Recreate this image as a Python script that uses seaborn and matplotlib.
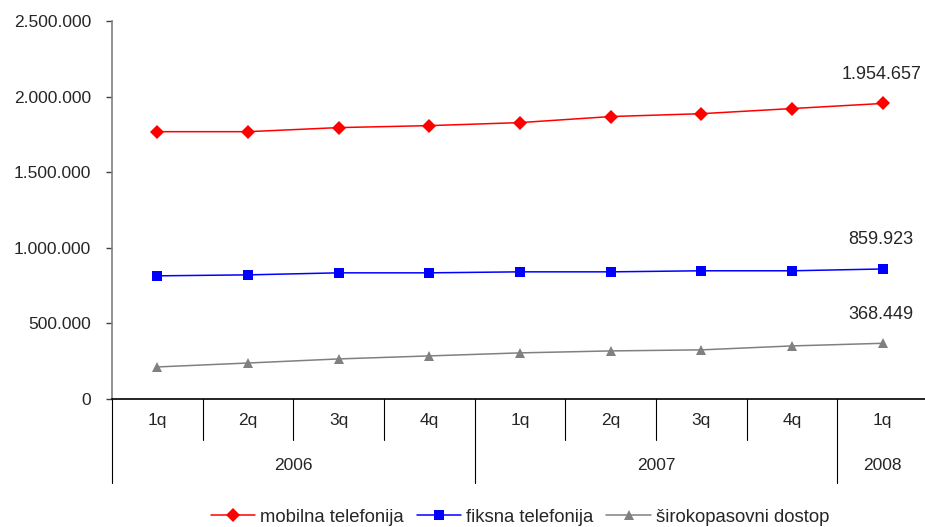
import matplotlib
matplotlib.use("Agg")
import matplotlib.pyplot as plt
import matplotlib.transforms as mtransforms
from matplotlib.ticker import FuncFormatter
import seaborn as sns
import pandas as pd

quarters = ["1q", "2q", "3q", "4q", "1q", "2q", "3q", "4q", "1q"]
years = ["2006", "2007", "2008"]
year_spans = [(0, 3), (4, 7), (8, 8)]
mobilna = [1768000, 1768000, 1795000, 1808000, 1828000, 1868000, 1887000, 1921000, 1954657]
fiksna = [814600, 821000, 834400, 834400, 841000, 841000, 848000, 848000, 859923]
sirokopasovni = [212000, 238000, 265000, 285000, 305000, 318000, 325000, 351000, 368449]
series_names = ["mobilna telefonija", "fiksna telefonija", "širokopasovni dostop"]

sns.set_style("white")
plt.rcParams['font.family'] = ['Liberation Sans', 'DejaVu Sans']

rows = []
for name, vals in zip(series_names, [mobilna, fiksna, sirokopasovni]):
    for i, v in enumerate(vals):
        rows.append({"idx": i, "value": v, "serija": name})
df = pd.DataFrame(rows)

fig = plt.figure(figsize=(9.25, 5.27), dpi=100)
W, H = 925, 527
left, right, top, bottom = 112, 928, 21, 399
ax = fig.add_axes([left / W, (H - bottom) / H, (right - left) / W, (bottom - top) / H])

palette = {"mobilna telefonija": "#ff0000", "fiksna telefonija": "#0000ff", "širokopasovni dostop": "#808080"}
markers = {"mobilna telefonija": "D", "fiksna telefonija": "s", "širokopasovni dostop": "^"}
sns.lineplot(data=df, x="idx", y="value", hue="serija", style="serija",
             palette=palette, markers=markers, dashes=False, ax=ax,
             linewidth=1.1, markersize=7, markeredgewidth=0)

ax.set_xlim(-0.5, 8.5)
ax.set_ylim(0, 2500000)
ax.set_yticks(range(0, 2500001, 500000))
ax.yaxis.set_major_formatter(FuncFormatter(lambda v, p: f"{int(v):,}".replace(",", ".")))
ax.tick_params(axis="y", labelsize=12.5, length=4, width=1, color="#404040", left=True, pad=11)
ax.set_xticks([])
ax.set_xlabel("")
ax.set_ylabel("")
for s in ["top", "right"]:
    ax.spines[s].set_visible(False)
ax.spines["left"].set_color("#808080")
ax.spines["left"].set_linewidth(1.2)
ax.spines["bottom"].set_color("black")
ax.spines["bottom"].set_linewidth(1.2)

trans = mtransforms.blended_transform_factory(ax.transData, ax.transAxes)
axh = bottom - top
r1 = 41 / axh
r2 = 84 / axh
for b in [0.5, 1.5, 2.5, 4.5, 5.5, 6.5]:
    ax.plot([b, b], [0, -r1], color="black", lw=0.8, transform=trans, clip_on=False)
for b in [-0.5, 3.5, 7.5]:
    ax.plot([b, b], [0, -r2], color="black", lw=0.8, transform=trans, clip_on=False)
for i, q in enumerate(quarters):
    ax.text(i, -21 / axh, q, transform=trans, ha="center", va="center", fontsize=12.5)
for y, (a, b) in zip(years, year_spans):
    ax.text((a + b) / 2, -66 / axh, y, transform=trans, ha="center", va="center", fontsize=12.5)

for vals in [mobilna, fiksna, sirokopasovni]:
    v = vals[-1]
    ax.annotate(f"{v:,}".replace(",", "."), (8, v), xytext=(-1, 21), textcoords="offset points",
                ha="center", va="center", fontsize=13)

handles, labels = ax.get_legend_handles_labels()
ax.legend(handles, labels, loc="center", bbox_to_anchor=(0.5, -(517 - bottom) / axh),
          ncol=3, frameon=False, fontsize=13.3, handlelength=2.4, handletextpad=0.27,
          columnspacing=0.7)

fig.savefig("out.png", dpi=100)
